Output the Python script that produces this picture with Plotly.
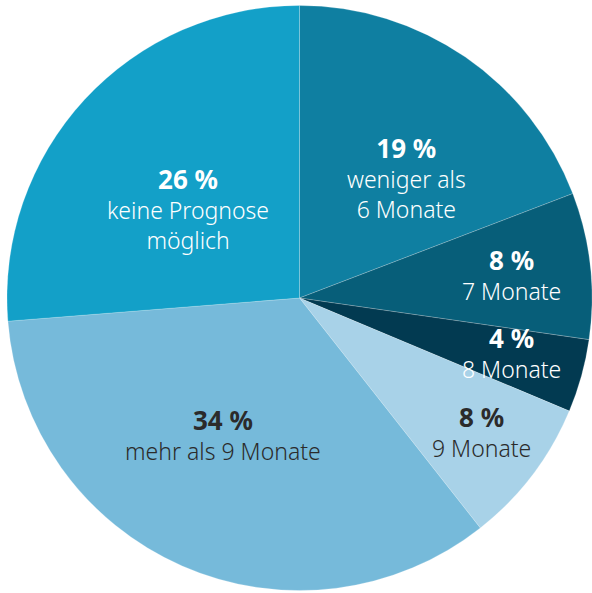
import math
import plotly.graph_objects as go

# ---- data ----
percents = [19, 8, 4, 8, 34, 26]
labels = ["weniger als<br>6 Monate", "7 Monate", "8 Monate", "9 Monate",
          "mehr als 9 Monate", "keine Prognose<br>möglich"]

# ---- style ----
colors = ["#0f7fa1", "#075e79", "#023a51", "#a8d2e8", "#76bada", "#13a0c8"]
text_colors = ["white", "white", "white", "#2b2b2b", "#2b2b2b", "white"]
label_rfrac = [0.55, 0.73, 0.75, 0.77, 0.535, 0.49]
label_dang = [7, 0, -1, -1, 5.6, -4]

W, H = 592, 593
ml, mr, mt, mb = 7, 0, 3, 0
pw, ph = W - ml - mr, H - mt - mb
R = min(pw, ph) / 2
cx, cy = ml + pw / 2, mt + ph / 2

fig = go.Figure(go.Pie(
    values=percents,
    labels=[l.replace("<br>", " ") for l in labels],
    sort=False,
    direction="clockwise",
    rotation=0,
    marker=dict(colors=colors, line=dict(color="rgba(255,255,255,0.35)", width=0.6)),
    textinfo="none",
    hoverinfo="label+value",
    showlegend=False,
))

total = sum(percents)
cum = 0
annotations = []
for v, lab, tc, rf, da in zip(percents, labels, text_colors, label_rfrac, label_dang):
    mid = (cum + v / 2) / total * 360 + da
    cum += v
    a = math.radians(mid)
    px = cx + rf * R * math.sin(a)
    py = cy - rf * R * math.cos(a)
    annotations.append(dict(
        x=(px - ml) / pw, y=1 - (py - mt) / ph, xref="paper", yref="paper",
        text=f"<span style='font-size:26px'><b>{v} %</b></span><br>{lab}",
        showarrow=False,
        xanchor="center", yanchor="middle", align="center",
        font=dict(family="Noto Sans", size=23, color=tc, weight=300),
    ))

fig.update_layout(
    width=W, height=H,
    margin=dict(l=ml, r=mr, t=mt, b=mb),
    paper_bgcolor="white", plot_bgcolor="white",
    annotations=annotations,
)

fig.write_html("out.html", config={"displayModeBar": False},
               post_script="document.body.style.margin='0';")
